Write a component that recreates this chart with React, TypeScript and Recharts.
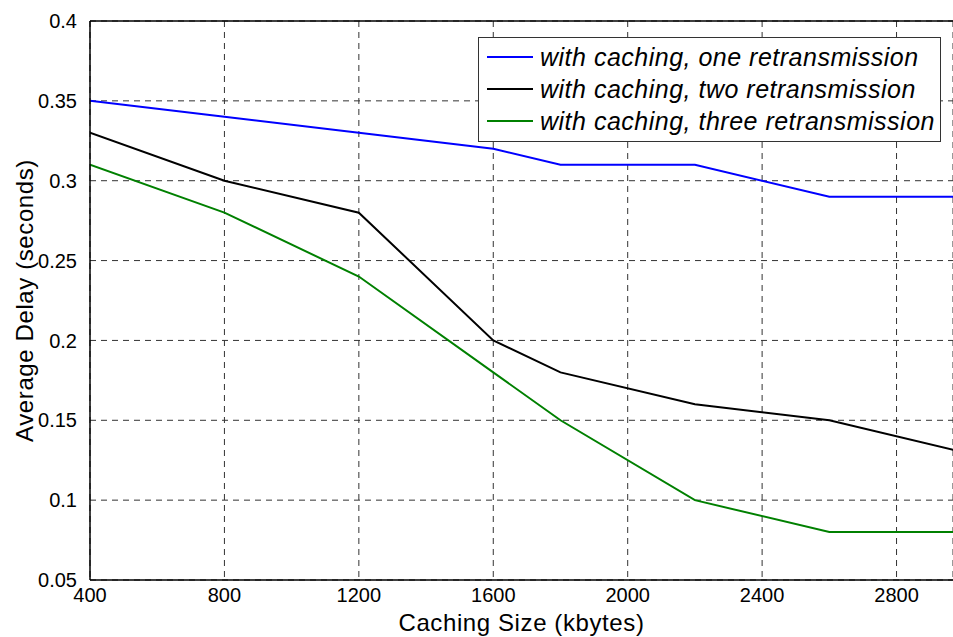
import React from 'react';
import {
  LineChart,
  Line,
  XAxis,
  YAxis,
  CartesianGrid,
  Legend,
  ReferenceLine
} from 'recharts';

const cacheSizes = [400, 800, 1200, 1600, 1800, 2200, 2600, 3000];
const oneRetx = [0.35, 0.34, 0.33, 0.32, 0.31, 0.31, 0.29, 0.29];
const twoRetx = [0.33, 0.3, 0.28, 0.2, 0.18, 0.16, 0.15, 0.13];
const threeRetx = [0.31, 0.28, 0.24, 0.18, 0.15, 0.1, 0.08, 0.08];

const xTicks = [400, 800, 1200, 1600, 2000, 2400, 2800];
const yTicks = [0.05, 0.1, 0.15, 0.2, 0.25, 0.3, 0.35, 0.4];

const series = [
  { key: 'one', name: 'with caching, one retransmission', color: '#0000ff', values: oneRetx },
  { key: 'two', name: 'with caching, two retransmission', color: '#000000', values: twoRetx },
  { key: 'three', name: 'with caching, three retransmission', color: '#008000', values: threeRetx }
];

const data = cacheSizes.map((size, i) => ({
  size,
  one: oneRetx[i],
  two: twoRetx[i],
  three: threeRetx[i]
}));

const font = 'Arial, "Liberation Sans", Helvetica, sans-serif';

const LegendBox = () => (
  <div
    style={{
      border: '1.5px solid #333',
      background: '#fff',
      padding: '3px 5px 4px 8px',
      fontFamily: font,
      fontStyle: 'italic',
      fontSize: 25,
      letterSpacing: 0.5,
      whiteSpace: 'nowrap'
    }}
  >
    {series.map(s => (
      <div key={s.key} style={{ display: 'flex', alignItems: 'center', height: 32 }}>
        <svg width={46} height={10} style={{ marginRight: 7 }}>
          <line x1={0} y1={5} x2={46} y2={5} stroke={s.color} strokeWidth={2} />
        </svg>
        <span>{s.name}</span>
      </div>
    ))}
  </div>
);

export default function App() {
  return (
    <div style={{ position: 'absolute', left: 0, top: 0, width: 953, height: 637, background: '#fff' }}>
      <LineChart
        width={953}
        height={637}
        data={data}
        margin={{ top: 21, right: 0, left: 0, bottom: 0 }}
      >
        <CartesianGrid stroke="#333" strokeDasharray="6 5" strokeWidth={1} />
        <ReferenceLine y={0.4} stroke="#000" strokeWidth={1.5} />
        <XAxis
          dataKey="size"
          type="number"
          domain={[400, 2968]}
          allowDataOverflow
          ticks={xTicks}
          height={57}
          stroke="#000"
          strokeWidth={1.5}
          tickLine={false}
          tickMargin={2}
          tick={{ fill: '#000', fontSize: 20, fontFamily: font }}
          label={{
            value: 'Caching Size (kbytes)',
            position: 'insideBottom',
            offset: 6,
            fill: '#000',
            fontSize: 24,
            letterSpacing: 0.6,
            fontFamily: font
          }}
        />
        <YAxis
          type="number"
          domain={[0.05, 0.4]}
          ticks={yTicks}
          width={90}
          stroke="#000"
          strokeWidth={1.5}
          tickLine={false}
          tickMargin={7}
          tick={{ fill: '#000', fontSize: 20, fontFamily: font }}
          label={{
            value: 'Average Delay (seconds)',
            angle: -90,
            position: 'insideLeft',
            offset: 24,
            style: { textAnchor: 'middle' },
            fill: '#000',
            fontSize: 24,
            letterSpacing: 0.6,
            fontFamily: font
          }}
        />
        <Legend
          layout="vertical"
          verticalAlign="middle"
          align="center"
          content={() => <LegendBox />}
          wrapperStyle={{ top: 37, left: 478, right: 'auto', bottom: 'auto', width: 'auto' }}
        />
        {series.map(s => (
          <Line
            key={s.key}
            dataKey={s.key}
            name={s.name}
            type="linear"
            stroke={s.color}
            strokeWidth={2}
            dot={false}
            isAnimationActive={false}
          />
        ))}
      </LineChart>
    </div>
  );
}
